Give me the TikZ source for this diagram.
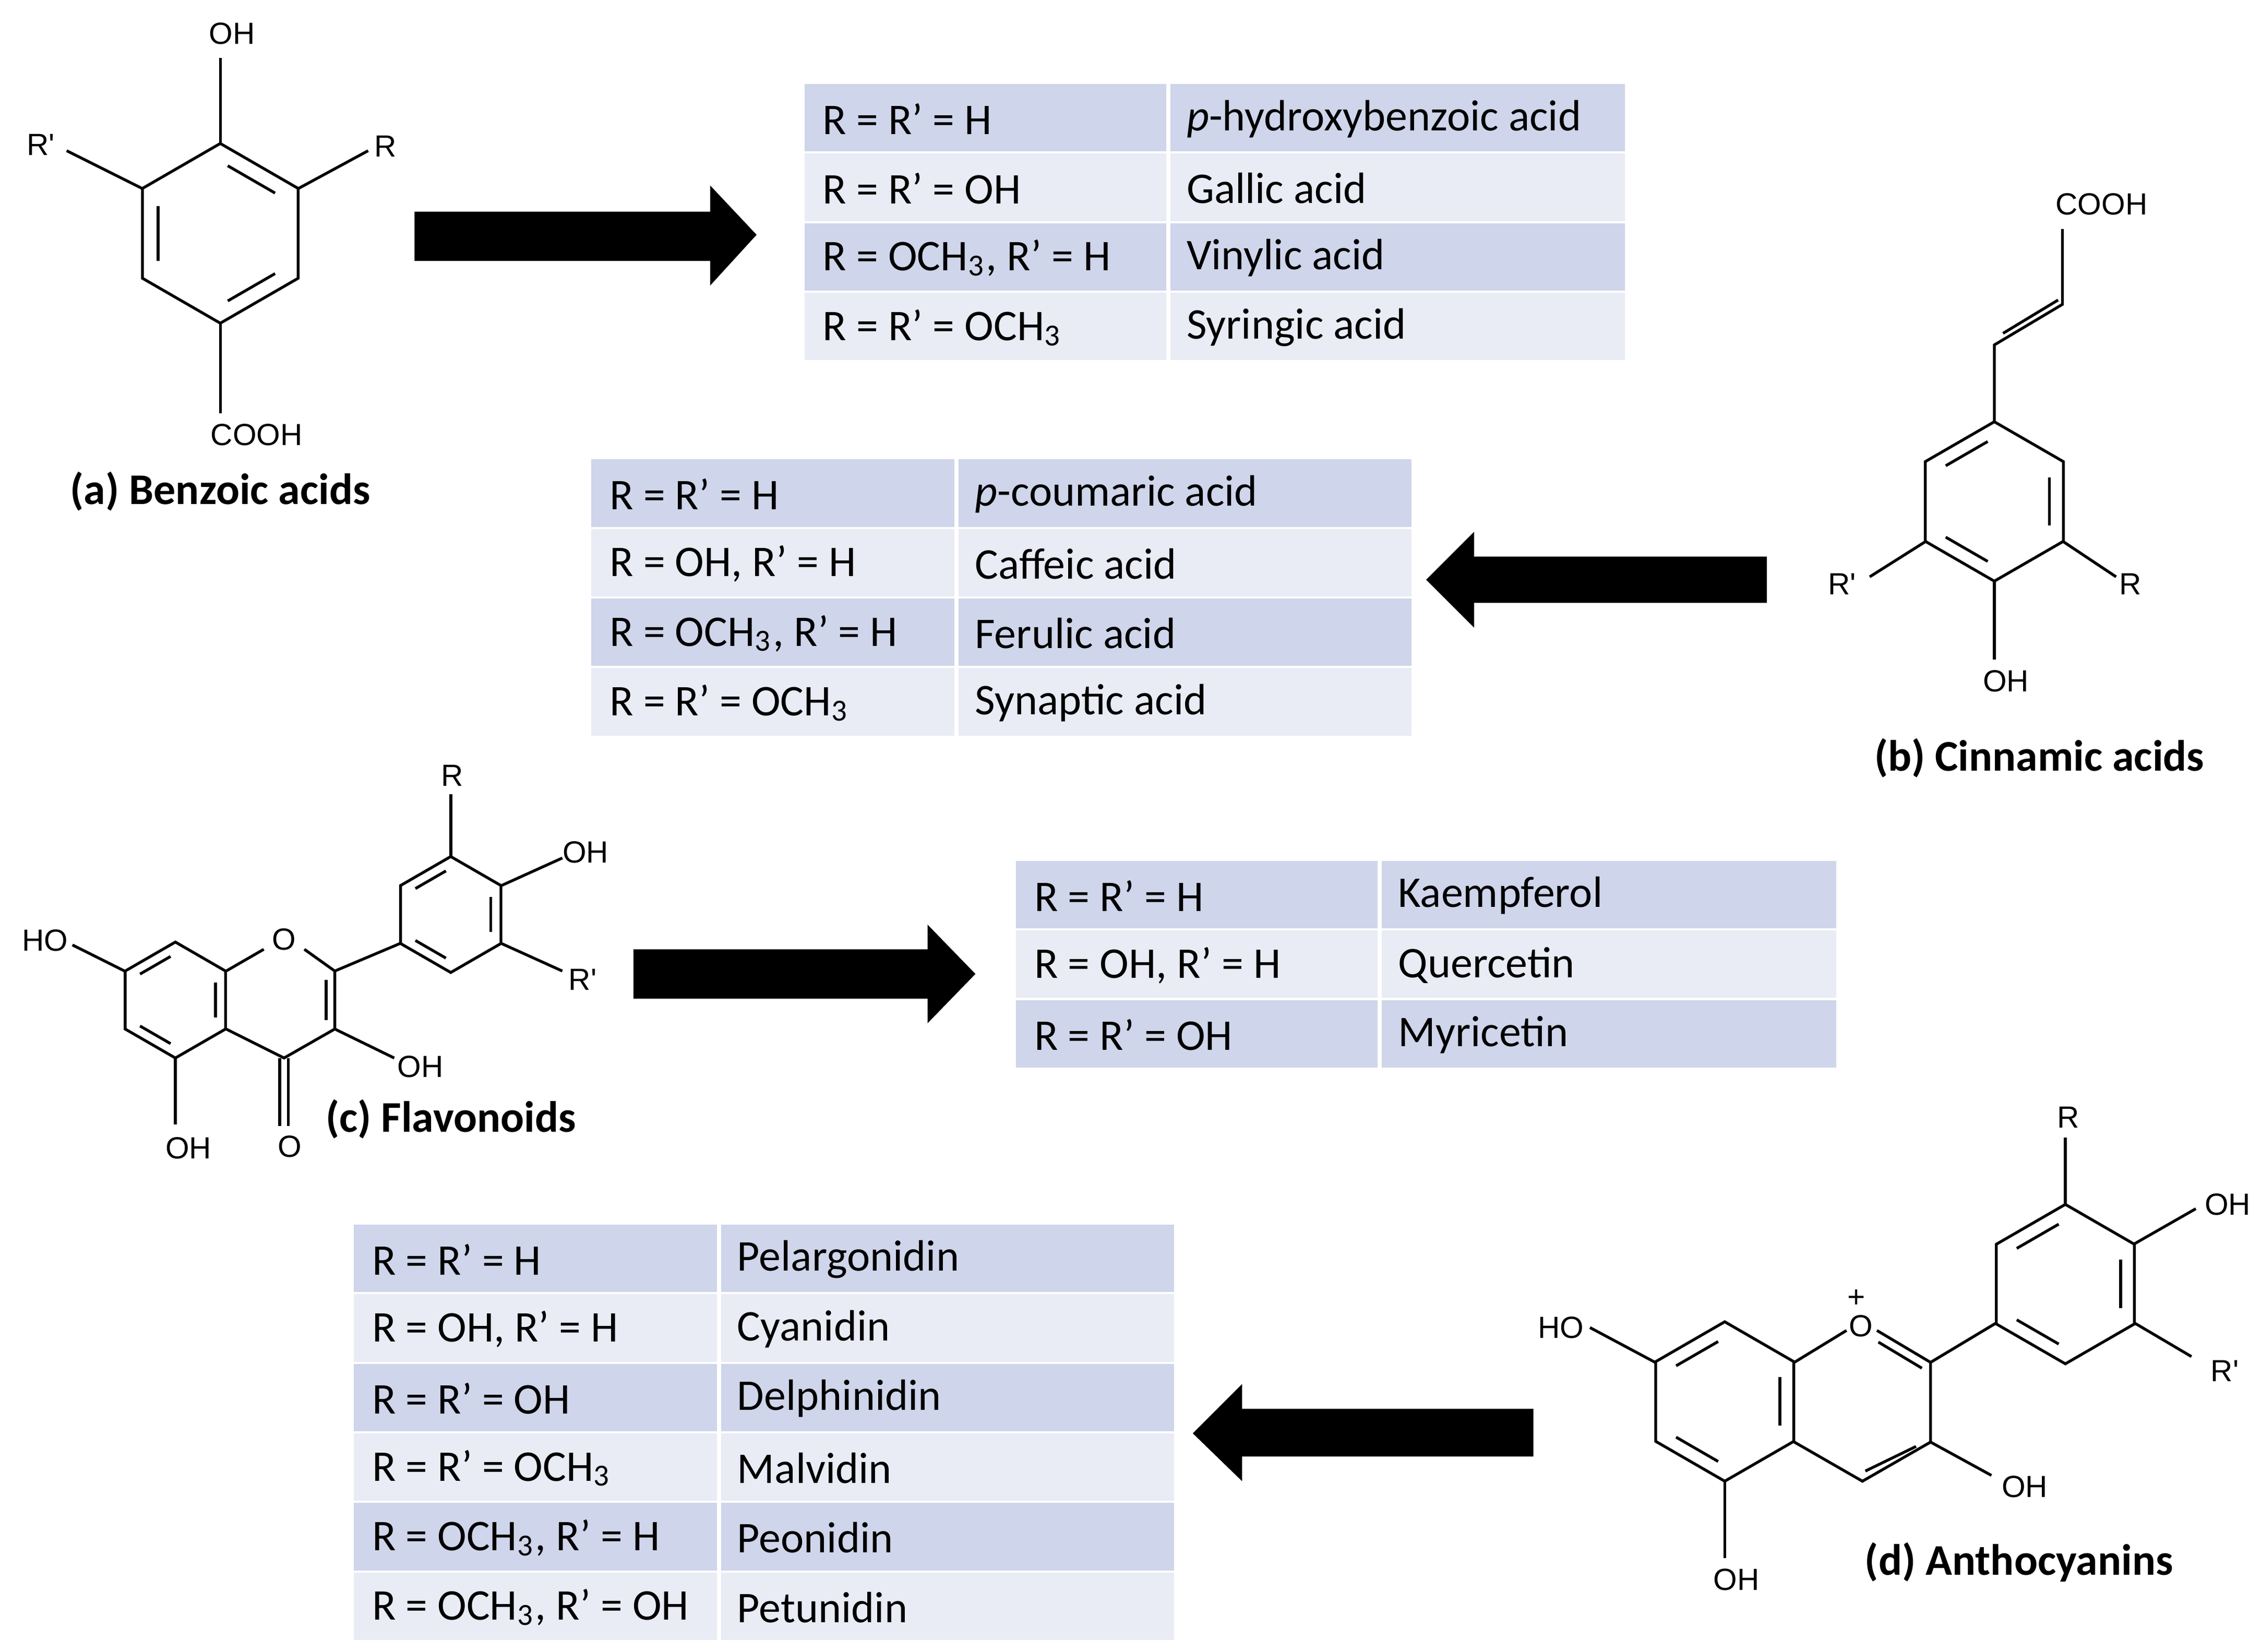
\documentclass[tikz,border=0pt]{standalone}
\usepackage{fontspec}
\setmainfont{Carlito}
\newfontfamily\chemf{Liberation Sans}
\usetikzlibrary{calc}
\definecolor{rowA}{HTML}{CFD5EA}
\definecolor{rowB}{HTML}{E9EBF5}
\tikzset{
 bond/.style={line width=0.55pt,black},
 lab/.style={font=\chemf\fontsize{6}{7}\selectfont,inner sep=0pt},
 ttext/.style={font=\fontsize{8.6}{10}\selectfont,anchor=west,inner sep=0pt},
 title/.style={font=\bfseries\fontsize{8.6}{10}\selectfont,inner sep=0pt},
 blk/.style={fill=black}
}
% name, x0, xs, x1, ytop, fill, left, right
\newcommand\trow[8]{%
 \fill[#6] (#2,#5) rectangle (#3-1.5,#5+46.5);
 \fill[#6] (#3+1.5,#5) rectangle (#4,#5+46.5);
 \node[ttext] (#1l) at (#2+12,#5+24) {#7};
 \node[ttext] (#1r) at (#3+12,#5+24) {#8};}
\newcommand\hexring[4]{%
 \draw[bond,shift={(#1,#2)}] (270:#3) -- (330:#3) -- (30:#3) -- (90:#3) -- (150:#3) -- (210:#3) -- cycle;
 \foreach \a in {#4}{\draw[bond,shift={(#1,#2)}] ($(\a:0.8*#3)!0.12!(\a+60:0.8*#3)$) -- ($(\a+60:0.8*#3)!0.12!(\a:0.8*#3)$);}}
\newcommand\sub[1]{\textsubscript{#1}}
\begin{document}
\begin{tikzpicture}[x=0.01cm,y=-0.01cm]
\fill[white] (0,0) rectangle (1560,1139.5);
\useasboundingbox (0,0) rectangle (1560,1139.5);
% ---------- (a) Benzoic acids
\hexring{152}{161}{62}{270,30,150}
\draw[bond] (152,99) -- (152,40);
\node[lab] (a-oh) at (160,23) {OH};
\draw[bond] (206,130) -- (254,104);
\node[lab] (a-r) at (266,101) {R};
\draw[bond] (98,130) -- (46,104);
\node[lab] (a-rp) at (28,100) {R'};
\draw[bond] (152,223) -- (152,285);
\node[lab] (a-cooh) at (177,300) {COOH};
\node[title] (a-title) at (152,339) {(a) Benzoic acids};
\fill[blk] (286,146) -- (490,146) -- (490,128) -- (522,162) -- (490,197) -- (490,180) -- (286,180) -- cycle;
\trow{t1a}{555}{806}{1121}{58}{rowA}{R = R’ = H}{\textit{p}-hydroxybenzoic acid}
\trow{t1b}{555}{806}{1121}{106}{rowB}{R = R’ = OH}{Gallic acid}
\trow{t1c}{555}{806}{1121}{154}{rowA}{R = OCH\sub{3}, R’ = H}{Vinylic acid}
\trow{t1d}{555}{806}{1121}{202}{rowB}{R = R’ = OCH\sub{3}}{Syringic acid}
% ---------- (b) Cinnamic acids
\hexring{1376}{346}{55}{330,90,210}
\draw[bond] (1376,291) -- (1376,238) -- (1423,210) -- (1423,158);
\draw[bond] (1382,230) -- (1420,207);
\node[lab] (b-cooh) at (1450,141) {COOH};
\draw[bond] (1424,374) -- (1460,398);
\node[lab] (b-r) at (1470,403) {R};
\draw[bond] (1328,374) -- (1290,398);
\node[lab] (b-rp) at (1271,403) {R'};
\draw[bond] (1376,401) -- (1376,455);
\node[lab] (b-oh) at (1384,470) {OH};
\node[title] (b-title) at (1407,523) {(b) Cinnamic acids};
\fill[blk] (1219,384) -- (1017,384) -- (1017,367) -- (984,400) -- (1017,433) -- (1017,416) -- (1219,416) -- cycle;
\trow{t2a}{408}{660}{974}{317}{rowA}{R = R’ = H}{\textit{p}-coumaric acid}
\trow{t2b}{408}{660}{974}{365}{rowB}{R = OH, R’ = H}{Caffeic acid}
\trow{t2c}{408}{660}{974}{413}{rowA}{R = OCH\sub{3}, R’ = H}{Ferulic acid}
\trow{t2d}{408}{660}{974}{461}{rowB}{R = R’ = OCH\sub{3}}{Synaptic acid}
% ---------- (c) Flavonoids
\hexring{121}{690}{40}{330,90,210}
\draw[bond] (156,670) -- (182,655); \draw[bond] (210,655) -- (231,670) -- (231,710) -- (196,730) -- (156,710);
\draw[bond] (225,676) -- (225,704);
\node[lab] (c-o) at (196,648) {O};
\hexring{311}{631}{40}{330,90,210}
\draw[bond] (231,670) -- (276,651);
\draw[bond] (311,591) -- (311,548);
\node[lab] (c-r) at (312,535) {R};
\draw[bond] (346,611) -- (388,592);
\node[lab] (c-oh1) at (404,588) {OH};
\draw[bond] (346,651) -- (388,670);
\node[lab] (c-rp) at (402,676) {R'};
\draw[bond] (86,670) -- (50,652);
\node[lab] (c-ho) at (31,649) {HO};
\draw[bond] (121,730) -- (121,776);
\node[lab] (c-oh2) at (130,792) {OH};
\draw[bond] (193,730) -- (193,777); \draw[bond] (199,730) -- (199,777);
\node[lab] (c-o2) at (200,791) {O};
\draw[bond] (231,710) -- (272,730);
\node[lab] (c-oh3) at (290,736) {OH};
\node[title] (c-title) at (311,772) {(c) Flavonoids};
\fill[blk] (437,655) -- (640,655) -- (640,638) -- (673,672) -- (640,706) -- (640,689) -- (437,689) -- cycle;
\trow{t3a}{701}{952}{1267}{594}{rowA}{R = R’ = H}{Kaempferol}
\trow{t3b}{701}{952}{1267}{642}{rowB}{R = OH, R’ = H}{Quercetin}
\trow{t3c}{701}{952}{1267}{690}{rowA}{R = R’ = OH}{Myricetin}
% ---------- (d) Anthocyanins
\hexring{1190}{967}{55}{330,90,210}
\draw[bond] (1238,940) -- (1274,918); \draw[bond] (1295,918) -- (1332,940) -- (1332,995) -- (1285,1022) -- (1238,995);
\draw[bond] (1296,926) -- (1326,944);
\draw[bond] (1322,998) -- (1287,1015);
\node[lab] (d-o) at (1284,915) {O};
\node[lab] (d-plus) at (1281,896) {+};
\hexring{1425}{886}{55}{330,90,210}
\draw[bond] (1332,940) -- (1377,913);
\draw[bond] (1425,831) -- (1425,785);
\node[lab] (d-r) at (1427,771) {R};
\draw[bond] (1473,858) -- (1515,834);
\node[lab] (d-oh1) at (1537,831) {OH};
\draw[bond] (1473,913) -- (1512,936);
\node[lab] (d-rp) at (1535,946) {R'};
\draw[bond] (1142,940) -- (1097,916);
\node[lab] (d-ho) at (1077,916) {HO};
\draw[bond] (1190,1022) -- (1190,1075);
\node[lab] (d-oh2) at (1198,1090) {OH};
\draw[bond] (1332,995) -- (1374,1018);
\node[lab] (d-oh3) at (1397,1026) {OH};
\node[title] (d-title) at (1393,1078) {(d) Anthocyanins};
\fill[blk] (1058,972) -- (857,972) -- (857,955) -- (823,989) -- (857,1022) -- (857,1005) -- (1058,1005) -- cycle;
\trow{t4a}{244}{496}{810}{845}{rowA}{R = R’ = H}{Pelargonidin}
\trow{t4b}{244}{496}{810}{893}{rowB}{R = OH, R’ = H}{Cyanidin}
\trow{t4c}{244}{496}{810}{941}{rowA}{R = R’ = OH}{Delphinidin}
\trow{t4d}{244}{496}{810}{989}{rowB}{R = R’ = OCH\sub{3}}{Malvidin}
\trow{t4e}{244}{496}{810}{1037}{rowA}{R = OCH\sub{3}, R’ = H}{Peonidin}
\trow{t4f}{244}{496}{810}{1085}{rowB}{R = OCH\sub{3}, R’ = OH}{Petunidin}
\end{tikzpicture}
\end{document}
